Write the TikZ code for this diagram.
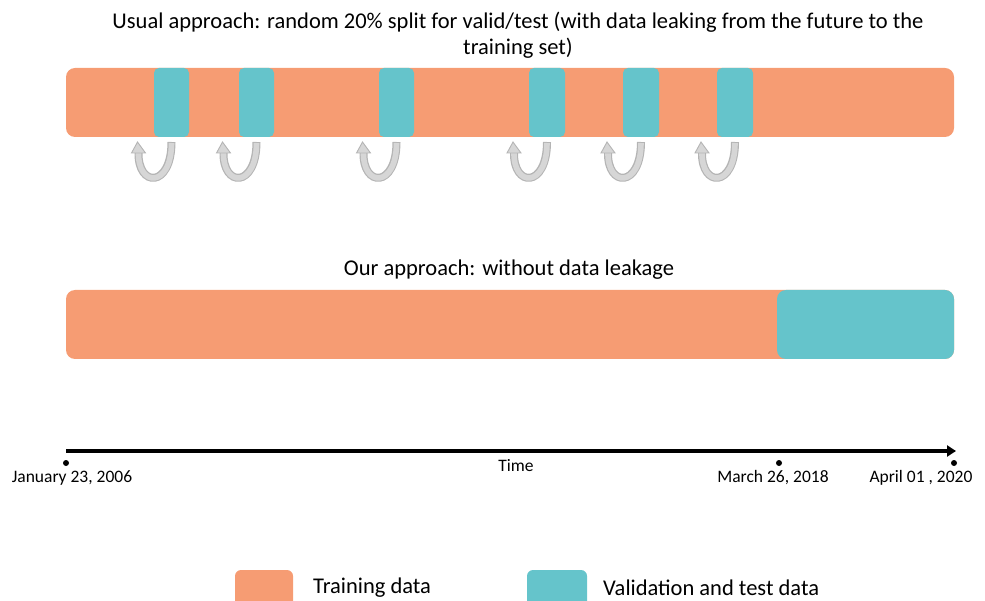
\documentclass[tikz,border=0pt]{standalone}
\usepackage{fontspec}
\setmainfont{Carlito}
\usetikzlibrary{arrows.meta}
\definecolor{trainc}{HTML}{F69C73}
\definecolor{validc}{HTML}{65C4CB}
\definecolor{arrfill}{HTML}{D6D6D6}
\definecolor{arredge}{HTML}{B4B4B4}
\tikzset{
  trainbar/.style={fill=trainc, draw=none, rounded corners=9pt},
  validblk/.style={fill=validc, draw=none, rounded corners=5pt},
  lbl/.style={font=\fontsize{17.5}{20}\selectfont, inner sep=0pt},
  title/.style={font=\fontsize{22.5}{26}\selectfont, align=center, inner sep=0pt},
  leak/.style={draw=arredge, line width=8pt, line cap=butt},
  leakin/.style={draw=arrfill, line width=5.6pt, line cap=butt},
  dot/.style={circle, fill=black, inner sep=0pt, minimum size=6pt},
}
\begin{document}
\begin{tikzpicture}[x=1pt, y=-1pt]
\useasboundingbox (0,0) rectangle (985,601);
% titles
\node[title] (t1) at (518,35) {Usual approach: random 20\% split for valid/test (with data leaking from the future to the\\training set)};
\node[title] (t2) at (509,270) {Our approach: without data leakage};
% top bar
\path[trainbar] (66,68) rectangle (954,137);
\foreach \l/\r [count=\i] in {154/189, 239/274, 379/414, 529/565, 623/659, 717/753}{
  \path[validblk] (\l,68) rectangle (\r,137);
  \pgfmathsetmacro{\c}{(\l+\r)/2}
  \coordinate (s\i) at (\c,142);
  % U-shaped leak arrow
  \draw[leak] (\c,142) .. controls (\c,188) and (\c-34,188) .. (\c-33,152);
  \draw[leakin] (\c,143) .. controls (\c,188) and (\c-34,188) .. (\c-33,152);
  \path[fill=arrfill, draw=arredge, line width=0.9pt] (\c-40,153) -- (\c-34,142) -- (\c-26,153) -- cycle;
}
% bottom bar
\path[trainbar] (66,290) rectangle (954,359);
\path[fill=validc, rounded corners=9pt] (777,290) rectangle (954,359);
% time axis
\node[dot] (d1) at (66,463) {};
\node[dot] (d2) at (779,463) {};
\node[dot] (d3) at (954,463) {};
\coordinate (axs) at (66,451);
\coordinate (axe) at (956,451);
\draw[line width=4pt, -{Triangle[length=9pt, width=11pt]}] (axs) -- (axe);
\node[lbl] (l1) at (72,478) {January 23, 2006};
\node[lbl] (lt) at (516,466) {Time};
\node[lbl] (l2) at (773,478) {March 26, 2018};
\node[lbl] (l3) at (921,478) {April 01 , 2020};
% legend
\path[fill=trainc, rounded corners=6pt] (235,570) rectangle (293,610);
\path[fill=validc, rounded corners=6pt] (527,570) rectangle (587,610);
\node[title, anchor=west] (lg1) at (313,588) {Training data};
\node[title, anchor=west] (lg2) at (603,588) {Validation and test data};
\end{tikzpicture}
\end{document}
